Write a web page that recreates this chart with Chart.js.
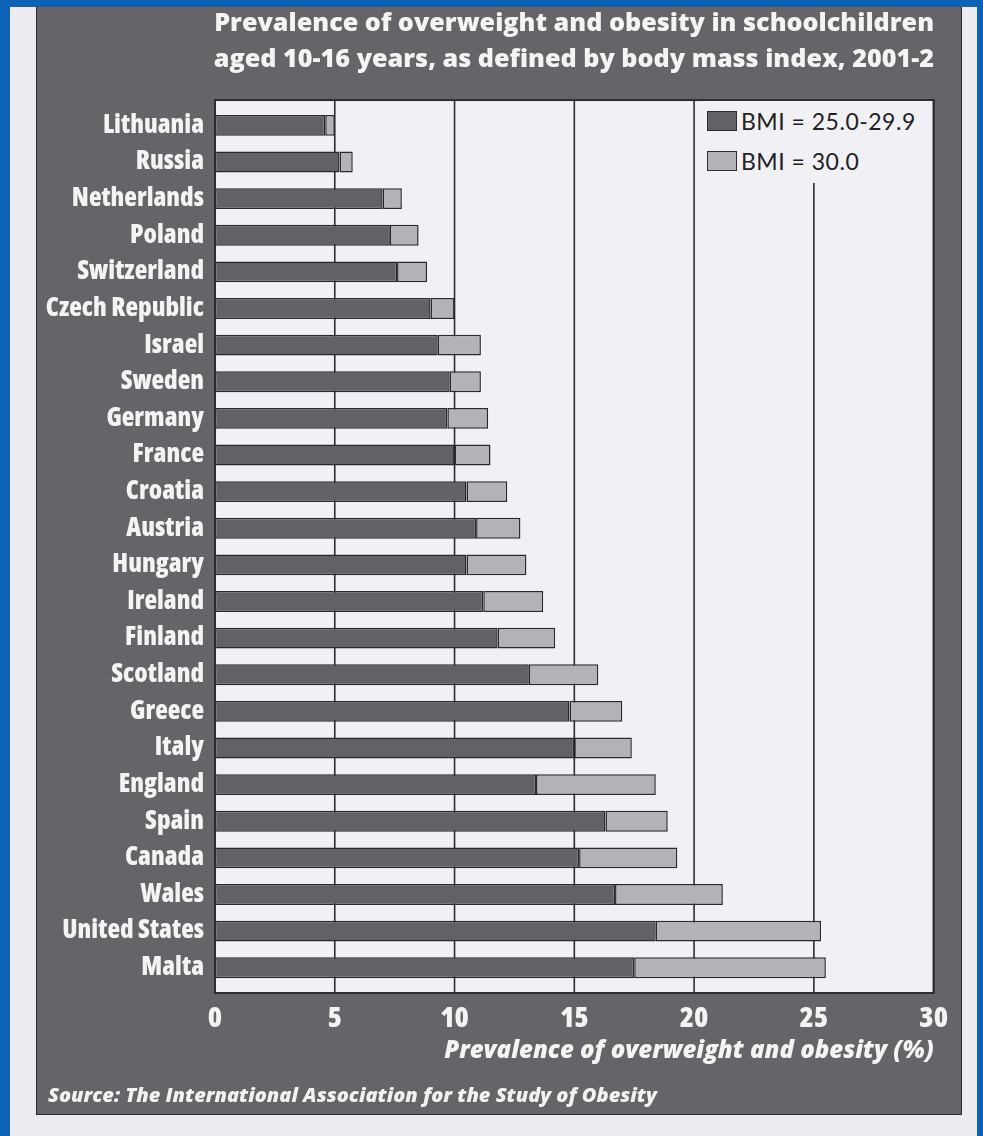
<!DOCTYPE html>
<html><head><meta charset="utf-8">
<script src="https://cdn.jsdelivr.net/npm/chart.js@4"></script>
<style>
html,body{margin:0;padding:0;width:983px;height:1136px;overflow:hidden;background:#ecebf0;}
.blue{position:absolute;background:#0c63b5;}
#panel{position:absolute;left:36px;top:7px;width:926px;height:1108px;background:#656469;border:1px solid #2a2a2e;border-top:none;box-sizing:border-box;}
#wrap{position:absolute;left:36px;top:0;width:927px;height:1116px;}
#legend{position:absolute;left:700px;top:101px;width:232px;height:82px;background:#f1f0f5;font-family:Lato,'Open Sans',sans-serif;font-size:23px;letter-spacing:0.5px;color:#222;}
#legend .item{position:absolute;left:7px;height:22px;display:flex;align-items:center;white-space:nowrap;}
#legend .sw{width:30px;height:20px;border:1.5px solid #2e2d33;margin-right:4px;box-sizing:border-box;}
#source{position:absolute;left:48px;top:1081px;color:#f2f2f2;font-family:'Open Sans',sans-serif;font-weight:800;font-style:italic;font-size:20px;white-space:nowrap;}
</style></head>
<body>
<div class="blue" style="left:0;top:0;width:10px;height:1136px"></div>
<div class="blue" style="left:0;top:0;width:983px;height:7px"></div>
<div class="blue" style="left:977px;top:0;width:6px;height:1136px"></div>
<div id="panel"></div>
<div id="wrap"><canvas id="c"></canvas></div>
<div id="legend"></div>
<div id="source">Source: The International Association for the Study of Obesity</div>
<script>
const countries = ["Lithuania","Russia","Netherlands","Poland","Switzerland","Czech Republic","Israel","Sweden","Germany","France","Croatia","Austria","Hungary","Ireland","Finland","Scotland","Greece","Italy","England","Spain","Canada","Wales","United States","Malta"];
const overweight = [4.6, 5.2, 7.0, 7.3, 7.6, 9.0, 9.3, 9.8, 9.7, 10.0, 10.5, 10.9, 10.5, 11.2, 11.8, 13.1, 14.8, 15.0, 13.4, 16.3, 15.2, 16.7, 18.4, 17.5];
const obese = [0.4, 0.55, 0.8, 1.2, 1.25, 1.0, 1.8, 1.3, 1.7, 1.5, 1.7, 1.85, 2.5, 2.5, 2.4, 2.9, 2.2, 2.4, 5.0, 2.6, 4.1, 4.5, 6.9, 8.0];
const seriesLabels = ["BMI = 25.0-29.9", "BMI = 30.0"];
const xTickValues = [0, 5, 10, 15, 20, 25, 30];
const titleLines = ["Prevalence of overweight and obesity in schoolchildren", "aged 10-16 years, as defined by body mass index, 2001-2"];
const xAxisTitle = "Prevalence of overweight and obesity (%)";

const FAM = "'Open Sans', sans-serif";
const DARK = '#626166', LIGHT = '#b3b2b7', EDGE = '#2a292e', PLOT_BG = '#f1f0f5', GRID = '#2d2c30', INK = '#f4f4f4';

const plotBox = {
  id: 'plotBox',
  beforeDatasetsDraw(chart) {
    const {ctx, chartArea: a, scales: {x}} = chart;
    const ext = 7, top = a.top - ext, bottom = a.bottom + ext;
    ctx.save();
    ctx.fillStyle = PLOT_BG;
    ctx.fillRect(a.left, top, a.right - a.left, bottom - top);
    ctx.strokeStyle = GRID; ctx.lineWidth = 1.6;
    x.ticks.forEach(t => {
      const px = x.getPixelForValue(t.value);
      ctx.beginPath(); ctx.moveTo(px, top); ctx.lineTo(px, bottom); ctx.stroke();
    });
    ctx.lineWidth = 2;
    ctx.strokeRect(a.left, top, a.right - a.left, bottom - top);
    ctx.restore();
  }
};

const chart = new Chart(document.getElementById('c'), {
  type: 'bar',
  data: {
    labels: countries,
    datasets: [
      {label: seriesLabels[0], data: overweight, backgroundColor: DARK, borderColor: EDGE, borderWidth: 1.5, borderSkipped: false},
      {label: seriesLabels[1], data: obese, backgroundColor: LIGHT, borderColor: EDGE, borderWidth: 1.5, borderSkipped: false}
    ]
  },
  options: {
    indexAxis: 'y',
    responsive: true,
    maintainAspectRatio: false,
    animation: false,
    datasets: {bar: {barPercentage: 0.57, categoryPercentage: 1.0}},
    layout: {padding: {left: 0, right: 29, top: 0, bottom: 45}},
    plugins: {
      legend: {display: false},
      tooltip: {enabled: false},
      title: {
        display: true, text: titleLines, align: 'end', color: INK,
        font: {family: FAM, size: 25.2, weight: '800', lineHeight: 1.43},
        padding: {top: 6, bottom: 29}
      }
    },
    scales: {
      x: {
        stacked: true, min: 0, max: 30,
        afterBuildTicks(s) { s.ticks = xTickValues.map(v => ({value: v})); },
        afterFit(s) { s.height = 85; },
        grid: {display: false, drawTicks: false},
        border: {display: false},
        ticks: {color: INK, padding: 15, font: {family: FAM, size: 29, weight: '800 condensed'}},
        title: {display: true, text: xAxisTitle, align: 'end', color: INK,
          font: {family: FAM, size: 24, weight: '800', style: 'italic', lineHeight: 1.2},
          padding: {top: 0, bottom: 5}}
      },
      y: {
        stacked: true,
        afterFit(s) { s.width = 179; },
        grid: {display: false, drawTicks: false},
        border: {display: false},
        ticks: {color: INK, padding: 11, font: {family: FAM, size: 26, weight: '800 condensed'}}
      }
    }
  },
  plugins: [plotBox]
});

// HTML legend built from the chart's datasets
const lg = document.getElementById('legend');
chart.data.datasets.forEach((ds, i) => {
  const it = document.createElement('div');
  it.className = 'item';
  it.style.top = (9 + i * 40) + 'px';
  const sw = document.createElement('span');
  sw.className = 'sw'; sw.style.background = ds.backgroundColor;
  const tx = document.createElement('span'); tx.textContent = ds.label;
  it.appendChild(sw); it.appendChild(tx); lg.appendChild(it);
});
</script>
</body></html>
